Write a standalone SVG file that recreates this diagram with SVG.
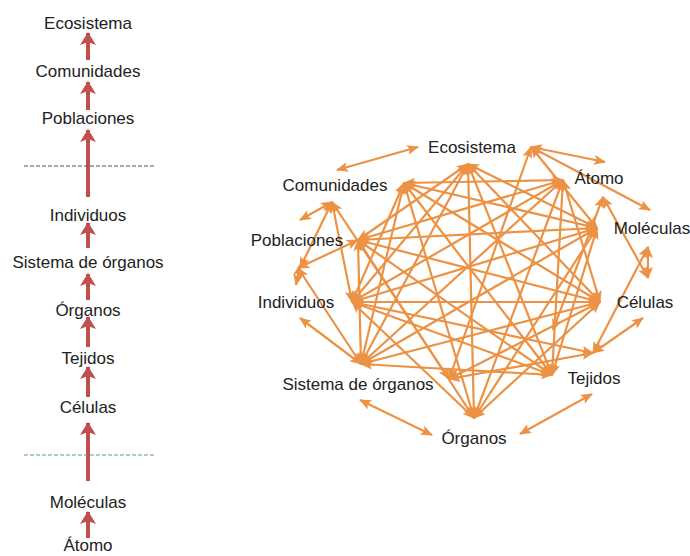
<svg xmlns="http://www.w3.org/2000/svg" width="690" height="556" viewBox="0 0 690 556">
<style>
  text { font-family: "Liberation Sans", Arial, sans-serif; font-size: 17px; fill: #222; text-anchor: middle; }
  .red { stroke: #C0504D; stroke-width: 4; fill: none; }
  .net line { stroke: #EC9244; stroke-width: 2.2; }
  .dash1 { stroke: #555; stroke-width: 1; stroke-dasharray: 4 2; }
  .dash2 { stroke: #5f9a9a; stroke-width: 1; stroke-dasharray: 4 2; }
</style>
<defs>
  <marker id="rh" markerUnits="userSpaceOnUse" markerWidth="18" markerHeight="18" refX="12" refY="8" orient="auto">
    <path d="M0,0 L13,8 L0,16 L3,8 Z" fill="#C0504D"/>
  </marker>
  <marker id="oh" markerUnits="userSpaceOnUse" markerWidth="14" markerHeight="12" refX="11" refY="5" orient="auto-start-reverse">
    <path d="M0,0 L12,5 L0,10 L2.5,5 Z" fill="#EC9244"/>
  </marker>
</defs>
<rect width="690" height="556" fill="#fff"/>

<!-- Left column -->
<g id="left-connectors">
  <line class="red" x1="88" y1="60" x2="88" y2="33" marker-end="url(#rh)"/>
  <line class="red" x1="88" y1="110" x2="88" y2="82" marker-end="url(#rh)"/>
  <line class="red" x1="88" y1="197" x2="88" y2="130" marker-end="url(#rh)"/>
  <line class="red" x1="88" y1="248" x2="88" y2="223" marker-end="url(#rh)"/>
  <line class="red" x1="88" y1="300" x2="88" y2="274" marker-end="url(#rh)"/>
  <line class="red" x1="88" y1="347" x2="88" y2="317" marker-end="url(#rh)"/>
  <line class="red" x1="88" y1="397" x2="88" y2="367" marker-end="url(#rh)"/>
  <line class="red" x1="88" y1="481" x2="88" y2="423" marker-end="url(#rh)"/>
  <line class="red" x1="88" y1="538" x2="88" y2="512" marker-end="url(#rh)"/>
  <line class="dash1" x1="24" y1="166" x2="154" y2="166"/>
  <line class="dash2" x1="24" y1="455" x2="154" y2="455"/>
</g>
<g id="l-ecosistema"><text x="88" y="29">Ecosistema</text></g>
<g id="l-comunidades"><text x="88" y="77">Comunidades</text></g>
<g id="l-poblaciones"><text x="88" y="124">Poblaciones</text></g>
<g id="l-individuos"><text x="88" y="221">Individuos</text></g>
<g id="l-sistema"><text x="88" y="268">Sistema de órganos</text></g>
<g id="l-organos"><text x="88" y="316">Órganos</text></g>
<g id="l-tejidos"><text x="88" y="364">Tejidos</text></g>
<g id="l-celulas"><text x="88" y="413">Células</text></g>
<g id="l-moleculas"><text x="88" y="508">Moléculas</text></g>
<g id="l-atomo"><text x="88" y="551">Átomo</text></g>

<!-- Network connectors -->
<g id="connectors" class="net" marker-start="url(#oh)" marker-end="url(#oh)">
  <!-- outer ring double arrows -->
  <line x1="337" y1="170" x2="418" y2="147" marker-start="url(#oh)" marker-end="url(#oh)"/>
  <line x1="531" y1="147" x2="605" y2="162" marker-start="url(#oh)" marker-end="url(#oh)"/>
  <line x1="531" y1="147" x2="650" y2="210" marker-start="url(#oh)" marker-end="url(#oh)"/>
  <line x1="332" y1="202" x2="300" y2="220" marker-start="url(#oh)" marker-end="url(#oh)"/>
  <line x1="300" y1="265" x2="296" y2="285" marker-start="url(#oh)" marker-end="url(#oh)"/>
  <line x1="300" y1="318" x2="361" y2="364" marker-start="url(#oh)" marker-end="url(#oh)"/>
  <line x1="360" y1="400" x2="432" y2="435" marker-start="url(#oh)" marker-end="url(#oh)"/>
  <line x1="520" y1="434" x2="592" y2="394" marker-start="url(#oh)" marker-end="url(#oh)"/>
  <line x1="593" y1="353" x2="643" y2="318" marker-start="url(#oh)" marker-end="url(#oh)"/>
  <line x1="648" y1="247" x2="648" y2="278" marker-start="url(#oh)" marker-end="url(#oh)"/>
  <line x1="603" y1="197" x2="648" y2="278" marker-start="url(#oh)" marker-end="url(#oh)"/>
  <line x1="648" y1="247" x2="593" y2="353" marker-start="url(#oh)" marker-end="url(#oh)"/>
  <line x1="603" y1="197" x2="553" y2="330" marker-start="url(#oh)" marker-end="url(#oh)"/>
  <!-- secondary hubs -->
  <line x1="332" y1="202" x2="300" y2="268" marker-start="url(#oh)" marker-end="url(#oh)"/>
  <line x1="332" y1="202" x2="352" y2="302" marker-start="url(#oh)" marker-end="url(#oh)"/>
  <line x1="332" y1="202" x2="449" y2="379" marker-start="url(#oh)" marker-end="url(#oh)"/>
  <line x1="298" y1="268" x2="358" y2="240" marker-start="url(#oh)" marker-end="url(#oh)"/>
  <line x1="298" y1="268" x2="361" y2="364" marker-start="url(#oh)" marker-end="url(#oh)"/>
  <line x1="531" y1="147" x2="597" y2="228" marker-start="url(#oh)" marker-end="url(#oh)"/>
  <line x1="531" y1="147" x2="449" y2="379" marker-start="url(#oh)" marker-end="url(#oh)"/>
  <line x1="449" y1="379" x2="600" y2="302" marker-start="url(#oh)" marker-end="url(#oh)"/>
  <line x1="449" y1="379" x2="593" y2="353" marker-start="url(#oh)" marker-end="url(#oh)"/>
  <line x1="352" y1="302" x2="593" y2="353" marker-start="url(#oh)" marker-end="url(#oh)"/>
  <!-- E -->
  <line x1="468" y1="164" x2="358" y2="240"/>
  <line x1="468" y1="164" x2="352" y2="302"/>
  <line x1="468" y1="164" x2="361" y2="364"/>
  <line x1="468" y1="164" x2="474" y2="418"/>
  <line x1="468" y1="164" x2="552" y2="375"/>
  <line x1="468" y1="164" x2="600" y2="302"/>
  <line x1="468" y1="164" x2="597" y2="228"/>
  <!-- C -->
  <line x1="404" y1="183" x2="563" y2="180"/>
  <line x1="404" y1="183" x2="597" y2="228"/>
  <line x1="404" y1="183" x2="600" y2="302"/>
  <line x1="404" y1="183" x2="552" y2="375"/>
  <line x1="404" y1="183" x2="474" y2="418"/>
  <line x1="404" y1="183" x2="361" y2="364"/>
  <line x1="404" y1="183" x2="352" y2="302"/>
  <!-- P -->
  <line x1="358" y1="240" x2="563" y2="180"/>
  <line x1="358" y1="240" x2="597" y2="228"/>
  <line x1="358" y1="240" x2="600" y2="302"/>
  <line x1="358" y1="240" x2="552" y2="375"/>
  <line x1="358" y1="240" x2="474" y2="418"/>
  <line x1="358" y1="240" x2="361" y2="364"/>
  <!-- I -->
  <line x1="352" y1="302" x2="563" y2="180"/>
  <line x1="352" y1="302" x2="597" y2="228"/>
  <line x1="352" y1="302" x2="600" y2="302"/>
  <line x1="352" y1="302" x2="552" y2="375"/>
  <line x1="352" y1="302" x2="474" y2="418"/>
  <!-- S -->
  <line x1="361" y1="364" x2="563" y2="180"/>
  <line x1="361" y1="364" x2="597" y2="228"/>
  <line x1="361" y1="364" x2="600" y2="302"/>
  <line x1="361" y1="364" x2="552" y2="375"/>
  <!-- O -->
  <line x1="474" y1="418" x2="563" y2="180"/>
  <line x1="474" y1="418" x2="597" y2="228"/>
  <line x1="474" y1="418" x2="600" y2="302"/>
  <!-- T -->
  <line x1="552" y1="375" x2="563" y2="180"/>
  <line x1="552" y1="375" x2="597" y2="228"/>
  <!-- Ce -->
  <line x1="600" y1="302" x2="563" y2="180"/>
</g>

<!-- Network nodes -->
<g id="n-ecosistema"><text x="472" y="153">Ecosistema</text></g>
<g id="n-comunidades"><text x="335" y="191">Comunidades</text></g>
<g id="n-atomo"><text x="599" y="184">Átomo</text></g>
<g id="n-moleculas"><text x="652" y="234">Moléculas</text></g>
<g id="n-poblaciones"><text x="297" y="246">Poblaciones</text></g>
<g id="n-individuos"><text x="296" y="308">Individuos</text></g>
<g id="n-celulas"><text x="645" y="308">Células</text></g>
<g id="n-sistema"><text x="358" y="390">Sistema de órganos</text></g>
<g id="n-tejidos"><text x="594" y="384">Tejidos</text></g>
<g id="n-organos"><text x="474" y="444">Órganos</text></g>
</svg>
